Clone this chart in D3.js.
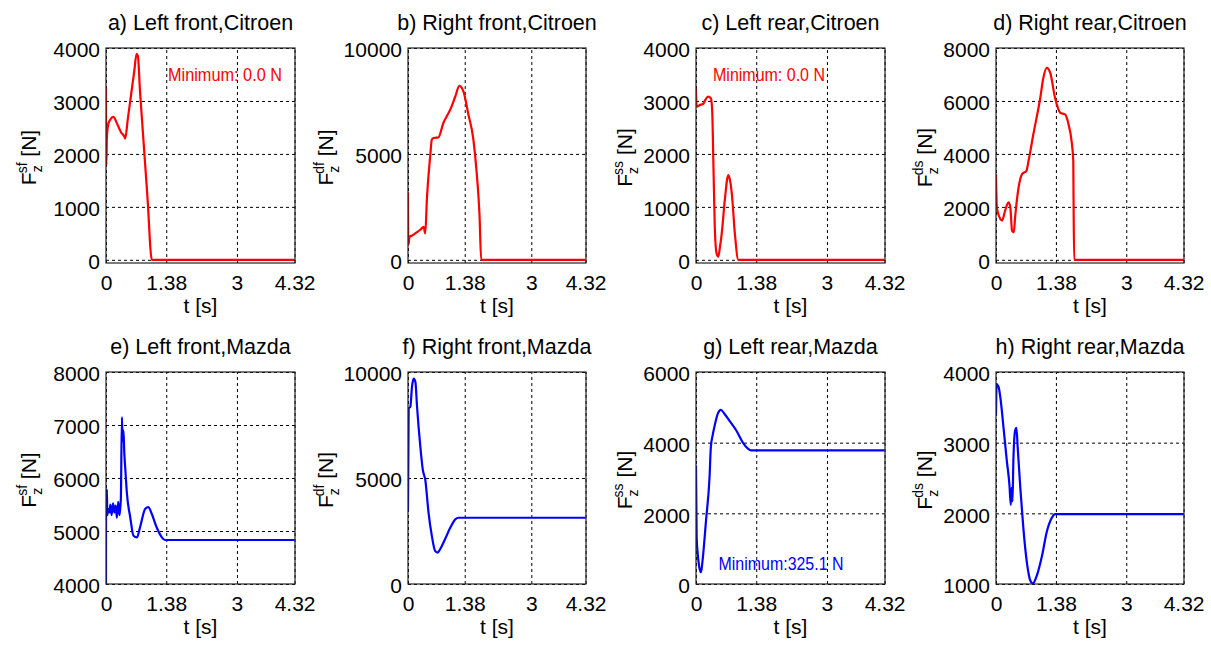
<!DOCTYPE html>
<html>
<head>
<meta charset="utf-8">
<script src="https://cdn.jsdelivr.net/npm/d3@7"></script>
<style>
  body { margin: 0; background: #fff; }
  text { font-family: "Liberation Sans", Arial, sans-serif; fill: #000; }
</style>
</head>
<body>
<div id="chart"></div>
<script>
// Time axis ticks (s)
const timeTicks = [0, 1.38, 3, 4.32];

// Panel titles and y-label superscripts
const titles = [
  "a) Left front,Citroen", "b) Right front,Citroen", "c) Left rear,Citroen", "d) Right rear,Citroen",
  "e) Left front,Mazda", "f) Right front,Mazda", "g) Left rear,Mazda", "h) Right rear,Mazda"
];
const labelSup = ["sf", "df", "ss", "ds", "sf", "df", "ss", "ds"];

// y tick values per panel
const yTicksA = [0, 1000, 2000, 3000, 4000];
const yTicksB = [0, 5000, 10000];
const yTicksC = [0, 1000, 2000, 3000, 4000];
const yTicksD = [0, 2000, 4000, 6000, 8000];
const yTicksE = [4000, 5000, 6000, 7000, 8000];
const yTicksF = [0, 5000, 10000];
const yTicksG = [0, 2000, 4000, 6000];
const yTicksH = [1000, 2000, 3000, 4000];

// Citroen, left front
const tA = [0, 0.008, 0.02, 0.05, 0.1, 0.17, 0.25, 0.35, 0.42, 0.44, 0.5, 0.58, 0.65, 0.7, 0.73, 0.78, 0.85, 0.95, 1.05, 4.32];
const fA = [3240, 1790, 2300, 2550, 2650, 2700, 2580, 2400, 2330, 2290, 2660, 3150, 3580, 3890, 3850, 3175, 2350, 1180, 0, 0];
// Citroen, right front
const tB = [0, 0.008, 0.04, 0.1, 0.2, 0.3, 0.38, 0.4, 0.42, 0.46, 0.5, 0.54, 0.58, 0.62, 0.66, 0.74, 0.86, 1.03, 1.15, 1.25, 1.35, 1.47, 1.59, 1.67, 1.74, 1.78, 4.32];
const fB = [3190, 700, 1090, 1150, 1280, 1420, 1560, 1400, 1250, 2880, 4000, 4900, 5680, 5750, 5760, 5780, 6460, 7100, 7710, 8210, 7940, 6850, 5690, 4130, 2100, 0, 0];
// Citroen, left rear
const tC = [0, 0.015, 0.08, 0.17, 0.22, 0.28, 0.34, 0.37, 0.4, 0.43, 0.47, 0.51, 0.55, 0.59, 0.66, 0.74, 0.78, 0.82, 0.89, 0.97, 4.32];
const fC = [3230, 2890, 2920, 2950, 3030, 3080, 3050, 2830, 1760, 630, 130, 60, 250, 500, 1130, 1600, 1500, 1260, 500, 0, 0];
// Citroen, right rear
const tD = [0, 0.02, 0.1, 0.14, 0.21, 0.29, 0.33, 0.37, 0.41, 0.44, 0.52, 0.6, 0.7, 0.75, 0.86, 1.02, 1.09, 1.17, 1.25, 1.36, 1.48, 1.59, 1.67, 1.74, 1.78, 1.785, 1.8, 4.32];
const fD = [3235, 1980, 1540, 1480, 1860, 2170, 1980, 1100, 1040, 1600, 2730, 3235, 3360, 3740, 4740, 6120, 6870, 7250, 7060, 6120, 5555, 5490, 5120, 4490, 3740, 2610, 0, 0];
// Mazda, left front
const tE = [0, 0.003, 0.01, 0.02, 0.03, 0.05, 0.08, 0.1, 0.13, 0.16, 0.19, 0.22, 0.25, 0.28, 0.31, 0.34, 0.365, 0.38, 0.4, 0.42, 0.44, 0.48, 0.555, 0.63, 0.71, 0.78, 0.9, 0.97, 1.05, 1.16, 1.28, 1.35, 4.32];
const fE = [4000, 5780, 5300, 5780, 5300, 5420, 5350, 5500, 5300, 5520, 5350, 5480, 5250, 5550, 5300, 5600, 7150, 6700, 6900, 6460, 6200, 5700, 5260, 4910, 4880, 5070, 5420, 5450, 5320, 5070, 4880, 4830, 4830];
// Mazda, right front
const tF = [0, 0.016, 0.057, 0.097, 0.137, 0.18, 0.22, 0.3, 0.36, 0.42, 0.5, 0.58, 0.66, 0.72, 0.78, 0.9, 1.03, 1.15, 1.23, 4.32];
const fF = [3440, 8280, 8360, 9300, 9690, 9530, 8360, 6480, 5390, 4920, 3360, 2270, 1560, 1480, 1640, 2110, 2660, 3050, 3125, 3125];
// Mazda, left rear
const tG = [0, 0.015, 0.04, 0.076, 0.115, 0.15, 0.23, 0.31, 0.34, 0.38, 0.42, 0.5, 0.57, 0.65, 0.76, 0.92, 1.07, 1.19, 1.26, 4.32];
const fG = [3355, 1320, 850, 470, 330, 660, 1800, 3020, 3875, 4200, 4440, 4820, 4930, 4820, 4630, 4350, 4010, 3830, 3780, 3780];
// Mazda, right rear
const tH = [0, 0.015, 0.04, 0.06, 0.1, 0.18, 0.25, 0.31, 0.34, 0.36, 0.38, 0.4, 0.44, 0.47, 0.5, 0.56, 0.63, 0.71, 0.79, 0.85, 0.94, 1.06, 1.17, 1.28, 1.36, 4.32];
const fH = [3380, 3830, 3810, 3790, 3640, 3170, 2740, 2400, 2120, 2360, 2170, 2740, 3170, 3210, 2930, 2360, 1790, 1310, 1050, 1010, 1120, 1400, 1740, 1930, 1990, 1990];

// Annotations
const noteA = "Minimum: 0.0 N";
const noteC = "Minimum: 0.0 N";
const noteG = "Minimum:325.1 N";

// Panel setup (layout only)
const colLeft = [106, 408, 696, 996];
const colWidth = [189, 178, 189, 188];
const rowTop = [48, 372];
const rowHeight = [215, 212];
const labelX = [36, 333, 632, 932];

const panels = [
  { t: tA, f: fA, yTicks: yTicksA, yDomain: [-60, 4000], color: "#ff0000", note: noteA, noteX: 225, noteY: 81, noteW: 114 },
  { t: tB, f: fB, yTicks: yTicksB, yDomain: [-150, 10000], color: "#ff0000" },
  { t: tC, f: fC, yTicks: yTicksC, yDomain: [-60, 4000], color: "#ff0000", note: noteC, noteX: 769, noteY: 81, noteW: 112 },
  { t: tD, f: fD, yTicks: yTicksD, yDomain: [-120, 8000], color: "#ff0000" },
  { t: tE, f: fE, yTicks: yTicksE, yDomain: [4000, 8000], color: "#0000ff" },
  { t: tF, f: fF, yTicks: yTicksF, yDomain: [0, 10000], color: "#0000ff" },
  { t: tG, f: fG, yTicks: yTicksG, yDomain: [0, 6000], color: "#0000ff", note: noteG, noteX: 781, noteY: 570, noteW: 125 },
  { t: tH, f: fH, yTicks: yTicksH, yDomain: [1000, 4000], color: "#0000ff" }
];

const svg = d3.select("#chart")
  .append("svg")
  .attr("width", 1211)
  .attr("height", 645);

panels.forEach((p, i) => {
  const col = i % 4, row = Math.floor(i / 4);
  const left = colLeft[col], w = colWidth[col];
  const top = rowTop[row], h = rowHeight[row];

  const x = d3.scaleLinear().domain([0, 4.33]).range([left, left + w]);
  const y = d3.scaleLinear().domain(p.yDomain).range([top + h, top]);

  const g = svg.append("g");

  // dotted grid
  g.append("g")
    .attr("transform", `translate(0, ${top + h})`)
    .call(d3.axisBottom(x).tickValues(timeTicks).tickSize(-h).tickFormat(""))
    .call(s => s.select(".domain").remove())
    .selectAll("line").attr("stroke", "#000").attr("stroke-dasharray", "3,3");
  g.append("g")
    .attr("transform", `translate(${left}, 0)`)
    .call(d3.axisLeft(y).tickValues(p.yTicks).tickSize(-w).tickFormat(""))
    .call(s => s.select(".domain").remove())
    .selectAll("line").attr("stroke", "#000").attr("stroke-dasharray", "3,3");

  // clip + data line
  const clipId = "clip" + i;
  svg.append("clipPath").attr("id", clipId)
    .append("rect").attr("x", left).attr("y", top).attr("width", w).attr("height", h);

  const line = d3.line()
    .x((d, k) => x(p.t[k]))
    .y(d => y(d))
    .curve(d3.curveMonotoneX);

  g.append("path")
    .attr("d", line(p.f))
    .attr("clip-path", `url(#${clipId})`)
    .attr("fill", "none")
    .attr("stroke", p.color)
    .attr("stroke-width", 2.2)
    .attr("stroke-linejoin", "round");

  // box
  g.append("rect")
    .attr("x", left).attr("y", top).attr("width", w).attr("height", h)
    .attr("fill", "none").attr("stroke", "#222").attr("stroke-width", 1.2);

  // tick labels
  g.append("g")
    .attr("transform", `translate(0, ${top + h})`)
    .call(d3.axisBottom(x).tickValues(timeTicks).tickSize(0).tickPadding(12).tickFormat(d => String(d)))
    .call(s => s.select(".domain").remove())
    .selectAll("text")
    .attr("font-size", 21)
    .attr("font-family", "Liberation Sans, Arial, sans-serif");

  g.append("g")
    .attr("transform", `translate(${left}, 0)`)
    .call(d3.axisLeft(y).tickValues(p.yTicks).tickSize(0).tickPadding(6).tickFormat(d => String(d)))
    .call(s => s.select(".domain").remove())
    .selectAll("text")
    .attr("dy", "0.42em")
    .attr("font-size", 21)
    .attr("font-family", "Liberation Sans, Arial, sans-serif");

  // title
  g.append("text")
    .attr("x", left + w / 2)
    .attr("y", top - 18)
    .attr("text-anchor", "middle")
    .attr("font-size", 21.5)
    .text(titles[i]);

  // x label
  g.append("text")
    .attr("x", left + w / 2)
    .attr("y", top + h + 50)
    .attr("text-anchor", "middle")
    .attr("font-size", 21)
    .text("t [s]");

  // y label F_z^xx [N]
  const yl = g.append("text")
    .attr("transform", `translate(${labelX[col]}, ${top + h / 2 + 2}) rotate(-90)`)
    .attr("text-anchor", "middle")
    .attr("font-size", 21);
  yl.append("tspan").text("F");
  yl.append("tspan").attr("font-size", 14).attr("dy", 6).text("z");
  yl.append("tspan").attr("font-size", 14).attr("dx", -8).attr("dy", -15).text(labelSup[i]);
  yl.append("tspan").attr("dy", 9).text(" [N]");

  // annotation
  if (p.note) {
    g.append("text")
      .attr("x", p.noteX)
      .attr("y", p.noteY)
      .attr("text-anchor", "middle")
      .attr("font-size", 18)
      .attr("textLength", p.noteW)
      .attr("lengthAdjust", "spacingAndGlyphs")
      .style("fill", p.color)
      .text(p.note);
  }
});
</script>
</body>
</html>
